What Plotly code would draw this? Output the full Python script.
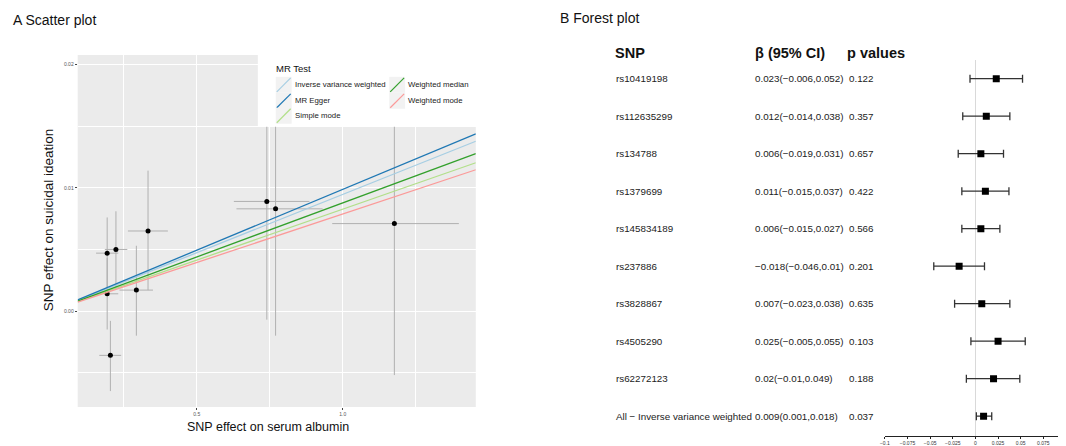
import plotly.graph_objects as go

# Page is rendered with the browser's default 8px body margin -> compensate.
OFF = 8
FW, FH = 1066 - OFF, 446 - OFF
LDX = -4  # small horizontal correction for left panel

# ---------------- Scatter plot data ----------------
snp_x = [0.193, 0.223, 0.193, 0.204, 0.293, 0.333, 0.740, 0.770, 1.177]
snp_x_lo = [0.155, 0.185, 0.184, 0.166, 0.235, 0.264, 0.627, 0.636, 0.964]
snp_x_hi = [0.231, 0.262, 0.231, 0.241, 0.350, 0.401, 0.886, 0.931, 1.398]
snp_y = [0.0047, 0.0050, 0.0014, -0.0036, 0.0017, 0.0065, 0.0089, 0.0083, 0.0071]
snp_y_lo = [0.0018, 0.0019, -0.0015, -0.0065, -0.0020, 0.0017, -0.0007, -0.0020, -0.0052]
snp_y_hi = [0.0076, 0.0081, 0.0043, -0.0008, 0.0053, 0.0114, 0.0185, 0.0186, 0.0194]

mr_methods = ["Inverse variance weighted", "MR Egger", "Simple mode", "Weighted median", "Weighted mode"]
mr_slopes = [0.00947, 0.00988, 0.00827, 0.00878, 0.00788]
mr_intercepts = [0.0, 0.0, 0.0, 0.0, 0.0]
mr_colors = ["#A6CEE3", "#1F78B4", "#B2DF8A", "#33A02C", "#FB9A99"]

x_range = [0.092, 1.456]
y_range = [-0.0078, 0.0208]

# ---------------- Forest plot data ----------------
fp_snps = ["rs10419198", "rs112635299", "rs134788", "rs1379699", "rs145834189",
           "rs237886", "rs3828867", "rs4505290", "rs62272123",
           "All \u2212 Inverse variance weighted"]
fp_beta = [0.023, 0.012, 0.006, 0.011, 0.006, -0.018, 0.007, 0.025, 0.02, 0.009]
fp_lo = [-0.006, -0.014, -0.019, -0.015, -0.015, -0.046, -0.023, -0.005, -0.01, 0.001]
fp_hi = [0.052, 0.038, 0.031, 0.037, 0.027, 0.01, 0.038, 0.055, 0.049, 0.018]
fp_p = ["0.122", "0.357", "0.657", "0.422", "0.566", "0.201", "0.635", "0.103", "0.188", "0.037"]
fp_ticks = [-0.1, -0.075, -0.05, -0.025, 0, 0.025, 0.05, 0.075, 0.1]

FONT = "Liberation Sans, Arial, sans-serif"


def px(xp):
    return (xp - OFF) / FW


def lx(xp):
    return px(xp + LDX)


def py(yp):
    return (FH - (yp - OFF)) / FH


fig = go.Figure()

# scatter points with error bars
fig.add_trace(go.Scatter(
    x=snp_x, y=snp_y, mode="markers",
    marker=dict(color="black", size=5),
    error_x=dict(type="data", symmetric=False,
                 array=[h - v for h, v in zip(snp_x_hi, snp_x)],
                 arrayminus=[v - l for v, l in zip(snp_x, snp_x_lo)],
                 color="#b0b0b0", thickness=1, width=0),
    error_y=dict(type="data", symmetric=False,
                 array=[h - v for h, v in zip(snp_y_hi, snp_y)],
                 arrayminus=[v - l for v, l in zip(snp_y, snp_y_lo)],
                 color="#b0b0b0", thickness=1, width=0),
    xaxis="x", yaxis="y", showlegend=False, hoverinfo="skip"))

# MR regression lines
for name, b, a, c in zip(mr_methods, mr_slopes, mr_intercepts, mr_colors):
    fig.add_trace(go.Scatter(
        x=x_range, y=[a + b * xv for xv in x_range], mode="lines",
        line=dict(color=c, width=1.3), name=name,
        xaxis="x", yaxis="y", showlegend=False))

# forest plot
fig.add_trace(go.Scatter(
    x=fp_beta, y=list(range(len(fp_beta))), mode="markers",
    marker=dict(symbol="square", color="black", size=7),
    error_x=dict(type="data", symmetric=False,
                 array=[h - v for h, v in zip(fp_hi, fp_beta)],
                 arrayminus=[v - l for v, l in zip(fp_beta, fp_lo)],
                 color="#333333", thickness=1.3, width=4),
    xaxis="x2", yaxis="y2", showlegend=False))

annotations = []
shapes = []

# panel background for scatter
shapes.append(dict(type="rect", xref="x domain", yref="y domain", x0=0, x1=1, y0=0, y1=1,
                   fillcolor="#EBEBEB", line=dict(width=0), layer="below"))

# titles
annotations.append(dict(text="A Scatter plot", x=lx(10), y=py(20), xref="paper", yref="paper",
                        xanchor="left", yanchor="middle", showarrow=False,
                        font=dict(size=14, color="#111", family=FONT)))
annotations.append(dict(text="B Forest plot", x=px(556), y=py(18), xref="paper", yref="paper",
                        xanchor="left", yanchor="middle", showarrow=False,
                        font=dict(size=14, color="#111", family=FONT)))
# axis titles
annotations.append(dict(text="SNP effect on serum albumin", x=lx(268), y=py(428), xref="paper", yref="paper",
                        xanchor="center", yanchor="middle", showarrow=False,
                        font=dict(size=12.5, color="#111", family=FONT)))
annotations.append(dict(text="SNP effect on suicidal ideation", x=lx(48), y=py(220), xref="paper", yref="paper",
                        xanchor="center", yanchor="middle", showarrow=False, textangle=-90,
                        font=dict(size=13.5, color="#111", family=FONT)))

# manual legend
shapes.append(dict(type="rect", xref="paper", yref="paper", x0=lx(258), x1=lx(478), y0=py(127), y1=py(55),
                   fillcolor="white", line=dict(width=0), layer="above"))
annotations.append(dict(text="MR Test", x=lx(274), y=py(69), xref="paper", yref="paper",
                        xanchor="left", yanchor="middle", showarrow=False,
                        font=dict(size=9.5, color="#111", family=FONT)))
key_pos = [(276, 85), (276, 101), (276, 116), (390, 85), (390, 101)]
for (kx, ky), name, c in zip(key_pos, mr_methods, mr_colors):
    shapes.append(dict(type="rect", xref="paper", yref="paper", x0=lx(kx), x1=lx(kx + 16),
                       y0=py(ky + 8), y1=py(ky - 8), fillcolor="#F2F2F2", line=dict(width=0), layer="above"))
    shapes.append(dict(type="line", xref="paper", yref="paper", x0=lx(kx + 1), x1=lx(kx + 15),
                       y0=py(ky + 7), y1=py(ky - 7), line=dict(color=c, width=1.2), layer="above"))
    annotations.append(dict(text=name, x=lx(kx + 17), y=py(ky), xref="paper", yref="paper",
                            xanchor="left", yanchor="middle", showarrow=False,
                            font=dict(size=7.8, color="#222", family=FONT)))

# forest headers
for txt, xp in [("SNP", 611), ("\u03b2 (95% CI)", 752), ("p values", 844)]:
    annotations.append(dict(text="<b>%s</b>" % txt, x=px(xp), y=py(53), xref="paper", yref="paper",
                            xanchor="left", yanchor="middle", showarrow=False,
                            font=dict(size=14.5, color="#111", family=FONT)))


def fmt(v):
    return str(v).replace("-", "\u2212")


for i, (s, b, lo, hi, p) in enumerate(zip(fp_snps, fp_beta, fp_lo, fp_hi, fp_p)):
    annotations.append(dict(text=s, x=px(612), y=i, xref="paper", yref="y2",
                            xanchor="left", yanchor="middle", showarrow=False,
                            font=dict(size=9.8, color="#222", family=FONT)))
    annotations.append(dict(text="%s(%s,%s)" % (fmt(b), fmt(lo), fmt(hi)), x=px(752), y=i,
                            xref="paper", yref="y2", xanchor="left", yanchor="middle", showarrow=False,
                            font=dict(size=9.8, color="#222", family=FONT)))
    annotations.append(dict(text=p, x=px(846), y=i, xref="paper", yref="y2",
                            xanchor="left", yanchor="middle", showarrow=False,
                            font=dict(size=9.8, color="#222", family=FONT)))

fig.update_layout(
    width=FW, height=FH,
    margin=dict(l=0, r=0, t=0, b=0),
    paper_bgcolor="white", plot_bgcolor="rgba(0,0,0,0)",
    font=dict(family=FONT),
    showlegend=False,
    xaxis=dict(domain=[lx(77), lx(477)], range=x_range, anchor="y",
               tick0=0, dtick=0.5, tickformat=".1f",
               showgrid=True, gridcolor="white", gridwidth=1,
               minor=dict(dtick=0.25, tick0=0, showgrid=True, gridcolor="white", gridwidth=0.5),
               ticks="outside", ticklen=2, tickcolor="#444", tickwidth=0.6,
               tickfont=dict(size=5, color="#555"), zeroline=False, showline=False),
    yaxis=dict(domain=[py(408), py(55)], range=y_range, anchor="x",
               tick0=0, dtick=0.01, tickformat=".2f",
               showgrid=True, gridcolor="white", gridwidth=1,
               minor=dict(dtick=0.005, tick0=0, showgrid=True, gridcolor="white", gridwidth=0.5),
               ticks="outside", ticklen=2, tickcolor="#444", tickwidth=0.6,
               tickfont=dict(size=5, color="#555"), zeroline=False, showline=False),
    xaxis2=dict(domain=[px(884), 1.0], range=[-0.1, 0.1], anchor="y2",
                tickvals=fp_ticks, ticktext=[fmt(t) for t in fp_ticks],
                showgrid=False, zeroline=True, zerolinecolor="#d9d9d9", zerolinewidth=1,
                showline=True, linecolor="#222", linewidth=1,
                ticks="outside", ticklen=2, tickcolor="#222", tickwidth=1,
                tickfont=dict(size=5, color="#333")),
    yaxis2=dict(domain=[py(437), py(60)], range=[9.53, -0.5], anchor="x2",
                visible=False, showgrid=False, zeroline=False),
    annotations=annotations,
    shapes=shapes,
)

fig.write_html("out.html")
